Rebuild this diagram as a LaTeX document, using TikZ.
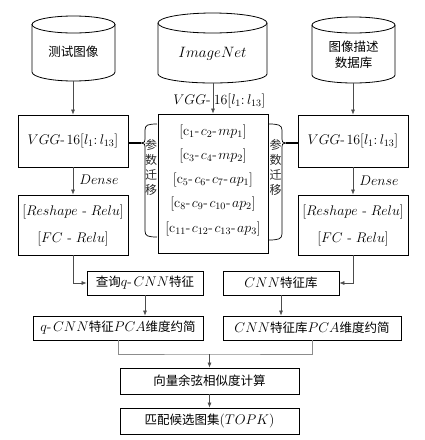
\RequirePackage{fix-cm}
\documentclass[tikz,border=0pt]{standalone}
\usepackage{fontspec}
\usepackage{amsmath}
\newfontfamily\cjkfamily{Noto Sans CJK SC}
\newcommand{\zh}[1]{{\fontsize{12.5}{14}\selectfont\cjkfamily #1}}
\usetikzlibrary{arrows.meta}
\newcommand{\hy}{\text{-}\mkern2mu}
\begin{document}
\begin{tikzpicture}[x=1pt,y=1pt,
  box/.style={draw=black,line width=0.8pt,inner sep=0pt},
  dbline/.style={draw=black,line width=0.8pt},
  lbl/.style={inner sep=0pt,font=\fontsize{14}{16}\selectfont},
  conn/.style={draw=black!70,line width=0.6pt,-{Latex[length=5pt,width=4pt]}},
  merge/.style={draw=black!45,line width=0.6pt},
  bracket/.style={draw=black,line width=0.7pt},
  vtext/.style={inner sep=0pt,align=center,font=\fontsize{12}{15}\selectfont\cjkfamily,text=black!85}]
\useasboundingbox (0,0) rectangle (424,-440);

% --- databases ---
\draw[dbline] (32,-24) -- (32,-72) arc[start angle=180,end angle=360,x radius=41.5,y radius=9] -- (115,-24);
\draw[dbline] (73.5,-24.5) ellipse[x radius=41.5,y radius=8.5];
\node[lbl] (db1) at (73.5,-52) {\zh{测试图像}};
\coordinate (db1b) at (73,-81);

\draw[dbline] (158,-23) -- (158,-74) arc[start angle=180,end angle=360,x radius=54.5,y radius=9] -- (267,-23);
\draw[dbline] (212.5,-23) ellipse[x radius=54.5,y radius=10];
\node[lbl,font=\fontsize{15}{17}\selectfont] (db2) at (212.5,-54) {$ImageNet$};
\coordinate (db2b) at (213,-83);

\draw[dbline] (312,-25) -- (312,-75) arc[start angle=180,end angle=360,x radius=41.5,y radius=8] -- (395,-25);
\draw[dbline] (353.5,-25) ellipse[x radius=41.5,y radius=8];
\node[lbl,align=center,font=\fontsize{12.5}{15.5}\selectfont\cjkfamily] (db3) at (353.5,-55) {图像描述\\数据库};
\coordinate (db3b) at (353,-83);

% --- VGG boxes ---
\node[box,minimum width=110pt,minimum height=52pt,lbl] (vggL) at (73,-141) {$VGG\hy16[l_1{:}\,l_{13}]$};
\node[box,minimum width=110pt,minimum height=52pt,lbl] (vggR) at (353,-141) {$VGG\hy16[l_1{:}\,l_{13}]$};
\node[box,minimum width=110pt,minimum height=60pt,lbl,align=center] (fcL) at (73,-225)
  {$[Reshape\ \hy\,Relu]$\\[11pt]$[FC\ \hy\,Relu]$};
\node[box,minimum width=110pt,minimum height=60pt,lbl,align=center] (fcR) at (353,-225)
  {$[Reshape\ \hy\,Relu]$\\[11pt]$[FC\ \hy\,Relu]$};

% --- middle layer stack ---
\node[box,minimum width=110pt,minimum height=139pt] (mid) at (213,-183.5) {};
\node[lbl] (m1) at (213,-132) {$[\mathrm{c}_1\hy c_2\hy mp_1]$};
\node[lbl] (m2) at (213,-156) {$[\mathrm{c}_3\hy c_4\hy mp_2]$};
\node[lbl] (m3) at (213,-180) {$[\mathrm{c}_5\hy c_6\hy c_7\hy ap_1]$};
\node[lbl] (m4) at (213,-204) {$[\mathrm{c}_8\hy c_9\hy c_{10}\hy ap_2]$};
\node[lbl] (m5) at (213,-229) {$[\mathrm{c}_{11}\hy c_{12}\hy c_{13}\hy ap_3]$};
\node[lbl] (vggM) at (213,-101) {\llap{$VGG\hy$}\hspace{1.5pt}\rlap{$16[l_1{:}\,l_{13}]$}};

% --- transfer brackets ---
\coordinate (brL) at (141,-143);
\coordinate (brR) at (286,-143);
\draw[bracket] (157,-124) .. controls (148,-124) and (145,-125) .. (145,-130) -- (145,-139)
  .. controls (145,-142) .. (brL) .. controls (145,-144) .. (145,-147) -- (145,-231)
  .. controls (145,-236) and (148,-237) .. (157,-237);
\draw[bracket] (269,-124) .. controls (278,-124) and (282,-125) .. (282,-130) -- (282,-139)
  .. controls (282,-142) .. (brR) .. controls (282,-144) .. (282,-147) -- (282,-234)
  .. controls (282,-239) and (278,-240) .. (269,-240);
\draw[black,line width=1.2pt] (vggL.east |- brL) -- (brL);
\draw[black,line width=1.2pt] (brR) -- (vggR.west |- brR);
\node[vtext] (tL) at (151,-167) {参\\数\\迁\\移};
\node[vtext] (tR) at (275.5,-167) {参\\数\\迁\\移};

% --- feature boxes ---
\node[box,minimum width=116pt,minimum height=24pt,lbl] (qf) at (145,-283) {\zh{查询}$q\hy CNN$\zh{特征}};
\node[box,minimum width=116pt,minimum height=24pt,lbl] (lib) at (281,-283) {$CNN$\zh{特征库}};
\node[box,minimum width=170pt,minimum height=24pt,lbl] (qp) at (118,-328) {$q\hy CNN$\zh{特征}$PCA$\zh{维度约简}};
\node[box,minimum width=178pt,minimum height=24pt,lbl] (lp) at (312,-328) {$CNN$\zh{特征库}$PCA$\zh{维度约简}};
\node[box,minimum width=179pt,minimum height=26pt,lbl] (cos) at (209.5,-381) {\zh{向量余弦相似度计算}};
\node[box,minimum width=179pt,minimum height=26pt,lbl] (top) at (209.5,-421) {\zh{匹配候选图集}$(TOPK)$};

% --- connectors ---
\draw[conn] (db1b) -- (vggL.north);
\draw[conn] (db2b) -- (mid.north);
\draw[conn] (db3b) -- (vggR.north);
\draw[conn] (vggL.south) -- node[lbl,right=6pt,pos=0.45] {$Dense$} (fcL.north);
\draw[conn] (vggR.south) -- node[lbl,right=6pt,pos=0.5] {$Dense$} (fcR.north);
\draw[conn] (fcL.south) |- (qf.west);
\draw[conn] (fcR.south) |- (lib.east);
\draw[conn] (qf.south) -- (qf.south |- qp.north);
\draw[conn] (lib.south) -- (lib.south |- lp.north);
\coordinate (mj) at (209.5,-354);
\draw[merge] (qp.south) |- (mj) -| (lp.south);
\draw[conn] (mj) -- (cos.north);
\draw[conn] (cos.south) -- (top.north);
\end{tikzpicture}
\end{document}
